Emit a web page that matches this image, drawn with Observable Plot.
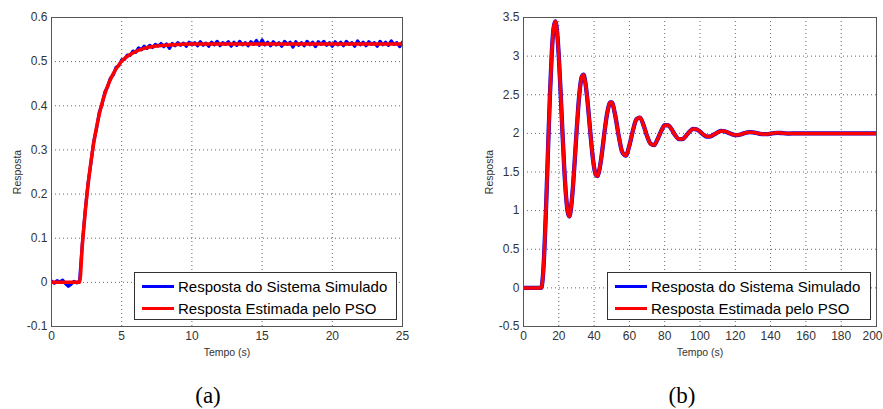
<!DOCTYPE html>
<html><head><meta charset="utf-8">
<script src="https://cdn.jsdelivr.net/npm/d3@7"></script>
<script src="https://cdn.jsdelivr.net/npm/@observablehq/plot@0.6"></script>
<style>
body{margin:0;background:#fff;}
#wrap{position:relative;width:883px;height:409px;overflow:hidden;font-family:"Liberation Sans",Arial,sans-serif;background:#fff;}
.panel{position:absolute;top:0;}
.legend{position:absolute;background:#fff;border:1px solid #333;box-sizing:border-box;}
.legend .row{position:absolute;left:0;height:20px;display:flex;align-items:center;font-size:15px;color:#000;white-space:nowrap;}
.legend .sw{width:32px;height:3px;margin-left:7px;margin-right:4px;}
.caption{position:absolute;font-family:"Liberation Serif","DejaVu Serif",serif;font-size:23px;line-height:23px;transform:translateX(-50%);color:#000;}
</style></head>
<body><div id="wrap"></div>
<script>
// ---------- Panel (a) data ----------
const estA_t = [0, 2, 2.2, 2.4, 2.6, 2.8, 3, 3.2, 3.4, 3.6, 3.8, 4, 4.4, 4.8, 5.2, 5.6, 6, 6.5, 7, 8, 9, 10, 12, 15, 20, 25];
const estA_y = [0, 0, 0.086, 0.159, 0.220, 0.271, 0.314, 0.350, 0.380, 0.406, 0.427, 0.445, 0.473, 0.493, 0.507, 0.516, 0.523, 0.529, 0.533, 0.537, 0.539, 0.540, 0.540, 0.540, 0.540, 0.540];
const simA_step = 0.2; // sample spacing (s)
const simA_y = [
 0.003,-0.002,0.004,0.001,0.005,-0.003,-0.009,-0.004,0.002,-0.001,
 0.003,0.090,0.162,0.224,0.268,0.318,0.347,0.385,0.403,0.431,
 0.443,0.463,0.470,0.487,0.491,0.504,0.505,0.515,0.514,0.524,
 0.521,0.531,0.527,0.535,0.530,0.537,0.532,0.539,0.535,0.541,
 0.534,0.540,0.530,0.541,0.536,0.543,0.537,0.542,0.535,0.544,
 0.538,0.543,0.536,0.545,0.537,0.542,0.535,0.544,0.538,0.546,
 0.536,0.543,0.539,0.545,0.535,0.544,0.537,0.546,0.538,0.543,
 0.536,0.545,0.539,0.548,0.537,0.549,0.538,0.544,0.536,0.545,
 0.538,0.543,0.535,0.546,0.539,0.544,0.533,0.545,0.537,0.543,
 0.536,0.546,0.538,0.544,0.534,0.545,0.539,0.546,0.537,0.543,
 0.535,0.545,0.538,0.544,0.536,0.546,0.539,0.543,0.535,0.547,
 0.538,0.544,0.536,0.545,0.539,0.543,0.535,0.546,0.538,0.544,
 0.537,0.547,0.539,0.543,0.534,0.544
];
const xTicksA = [0, 5, 10, 15, 20, 25];
const yTicksA = [-0.1, 0, 0.1, 0.2, 0.3, 0.4, 0.5, 0.6];

// ---------- Panel (b) data ----------
const estB_t = [0,10,11,12,13,14,15,16,17,18,19,20,21,22,23,24,25,26,27,28,29,30,31,32,33,34,35,36,37,38,39,40,41,42,43,44,45,46,47,48,49,50,
 52,54,56,58,60,62,64,66,68,70,72,74,76,78,80,82,84,86,88,90,92,94,96,98,100,102,104,106,108,110,112,114,116,118,120,122,124,126,128,130,
 132,134,136,138,140,142,144,146,148,150,155,160,170,180,190,200];
const estB_y = [0,0,0.153,0.575,1.180,1.860,2.509,3.031,3.354,3.449,3.318,2.996,2.545,2.052,1.587,1.221,0.990,0.925,1.050,1.300,1.642,1.998,2.331,2.587,2.732,2.760,2.665,2.479,2.236,1.976,1.739,1.561,1.463,1.448,1.529,1.669,1.848,2.036,2.204,2.328,2.400,2.400,
 2.228,1.961,1.755,1.712,1.844,2.038,2.182,2.205,2.107,1.966,1.865,1.848,1.927,2.030,2.105,2.104,2.049,1.975,1.926,1.926,1.967,2.021,2.058,2.053,2.022,1.983,1.958,1.962,1.986,2.013,2.032,2.027,2.009,1.990,1.978,1.981,1.994,2.008,2.016,2.013,
 2.005,1.995,1.990,1.991,1.997,2.004,2.007,2.005,2.001,1.998,2.000,2.000,2.000,2.000,2.000,2.000];
const xTicksB = [0,20,40,60,80,100,120,140,160,180,200];
const yTicksB = [-0.5,0,0.5,1,1.5,2,2.5,3,3.5];

const legendLabels = ["Resposta do Sistema Simulado", "Resposta Estimada pelo PSO"];
const seriesColors = ["#0000ff", "#ff0000"];
const captions = ["(a)", "(b)"];

// ---------- build ----------
const estA = estA_t.map((t, i) => ({t, v: estA_y[i]}));
const simA = simA_y.map((v, i) => ({t: +(i * simA_step).toFixed(2), v}));
const estB = estB_t.map((t, i) => ({t, v: estB_y[i]}));

function panel({width, marginLeft, marginRight, xDomain, yDomain, xTicks, yTicks, sim, est, simWidth, simCurve, estCurve, lastShift}) {
  const xMain = xTicks.slice(0, -1), xLast = xTicks.slice(-1);
  return Plot.plot({
    width, height: 360, marginLeft, marginRight, marginTop: 17, marginBottom: 34,
    style: {fontFamily: "'Liberation Sans', Arial, sans-serif", fontSize: "12px", color: "#333", background: "white", overflow: "visible"},
    x: {domain: xDomain},
    y: {domain: yDomain},
    marks: [
      Plot.gridX(xTicks, {stroke: "#333", strokeOpacity: 0.75, strokeDasharray: "1,3"}),
      Plot.gridY(yTicks, {stroke: "#333", strokeOpacity: 0.75, strokeDasharray: "1,3"}),
      Plot.line(sim, {x: "t", y: "v", stroke: seriesColors[0], strokeWidth: simWidth, curve: simCurve, clip: true}),
      Plot.line(est, {x: "t", y: "v", stroke: seriesColors[1], strokeWidth: 3.5, curve: estCurve, clip: true}),
      Plot.frame({stroke: "#555"}),
      Plot.axisX(xMain, {tickSize: 0, tickPadding: 5, label: null, tickFormat: d => String(d)}),
      Plot.axisX(xLast, {tickSize: 0, tickPadding: 5, label: null, dx: lastShift, tickFormat: d => String(d)}),
      Plot.axisY(yTicks, {tickSize: 0, tickPadding: 4, label: null, tickFormat: d => String(d)}),
      Plot.text(["Tempo (s)"], {text: d => d, frameAnchor: "bottom", dy: 26, lineAnchor: "middle", textAnchor: "middle", fontSize: 10.5, fill: "#333"}),
      Plot.text(["Resposta"], {text: d => d, frameAnchor: "left", dx: -34, rotate: -90, lineAnchor: "middle", textAnchor: "middle", fontSize: 10.5, fill: "#333"})
    ]
  });
}

const wrap = document.getElementById("wrap");

const pA = panel({width: 440, marginLeft: 51, marginRight: 38, xDomain: [0, 25], yDomain: [-0.1, 0.6],
  xTicks: xTicksA, yTicks: yTicksA, sim: simA, est: estA, simWidth: 3.2, simCurve: "linear", estCurve: "monotone-x", lastShift: 0});
pA.classList.add("panel"); pA.style.left = "0px";
wrap.appendChild(pA);

const pB = panel({width: 443, marginLeft: 83, marginRight: 7, xDomain: [0, 200], yDomain: [-0.5, 3.5],
  xTicks: xTicksB, yTicks: yTicksB, sim: estB, est: estB, simWidth: 4.3, simCurve: "monotone-x", estCurve: "monotone-x", lastShift: -4});
pB.classList.add("panel"); pB.style.left = "440px";
wrap.appendChild(pB);

function legend(left, top, width) {
  const box = document.createElement("div");
  box.className = "legend";
  Object.assign(box.style, {left: left + "px", top: top + "px", width: width + "px", height: "48px"});
  legendLabels.forEach((lab, i) => {
    const row = document.createElement("div");
    row.className = "row";
    row.style.top = (3 + i * 22) + "px";
    const sw = document.createElement("span");
    sw.className = "sw"; sw.style.background = seriesColors[i];
    const tx = document.createElement("span");
    tx.textContent = lab;
    row.appendChild(sw); row.appendChild(tx);
    box.appendChild(row);
  });
  wrap.appendChild(box);
}
legend(134, 272, 263);
legend(607, 272, 264);

[[208, captions[0]], [682, captions[1]]].forEach(([x, c]) => {
  const d = document.createElement("div");
  d.className = "caption";
  d.style.left = x + "px"; d.style.top = "384px";
  d.textContent = c;
  wrap.appendChild(d);
});
</script>
</body></html>
